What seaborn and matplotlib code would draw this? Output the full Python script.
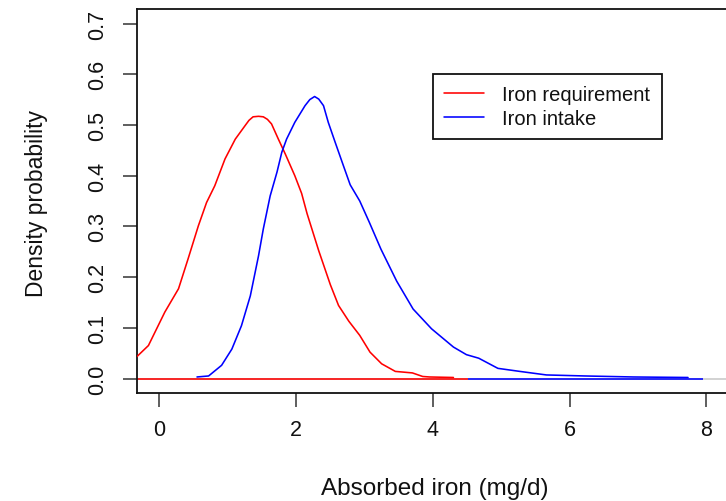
import matplotlib
matplotlib.use("Agg")
import matplotlib.pyplot as plt
import seaborn as sns
import pandas as pd

# ---- data ----
req_x = [-0.33, -0.16, 0.08, 0.28, 0.42, 0.57, 0.69, 0.81, 0.96, 1.11, 1.25, 1.31, 1.37,
         1.45, 1.52, 1.58, 1.64, 1.74, 1.84, 1.98, 2.08, 2.16, 2.33, 2.50, 2.62, 2.77,
         2.93, 3.08, 3.25, 3.45, 3.70, 3.85, 3.95, 4.30]
req_y = [0.043, 0.065, 0.131, 0.177, 0.236, 0.301, 0.347, 0.380, 0.433, 0.472, 0.498,
         0.509, 0.516, 0.517, 0.516, 0.511, 0.502, 0.472, 0.443, 0.400, 0.365, 0.325,
         0.252, 0.185, 0.144, 0.113, 0.085, 0.052, 0.029, 0.014, 0.011, 0.004, 0.003,
         0.002]

int_x = [0.55, 0.72, 0.91, 1.06, 1.20, 1.33, 1.45, 1.52, 1.62, 1.72, 1.79, 1.86, 1.98,
         2.13, 2.20, 2.27, 2.33, 2.40, 2.47, 2.57, 2.69, 2.79, 2.93, 3.07, 3.24, 3.47,
         3.71, 3.98, 4.30, 4.49, 4.67, 4.95, 5.27, 5.66, 6.22, 6.93, 7.73]
int_y = [0.003, 0.005, 0.026, 0.058, 0.104, 0.163, 0.242, 0.295, 0.360, 0.407, 0.446,
         0.472, 0.505, 0.538, 0.550, 0.556, 0.551, 0.538, 0.505, 0.466, 0.420, 0.382,
         0.350, 0.308, 0.255, 0.192, 0.137, 0.098, 0.062, 0.047, 0.040, 0.020, 0.014,
         0.007, 0.005, 0.003, 0.002]

series_names = ["Iron requirement", "Iron intake"]
series_colors = ["#ff0000", "#0000ff"]

# zero-line segments (start, end) for each series
req_zero = [-0.33, 4.52]
int_zero = [4.52, 7.95]

x_ticks = [0, 2, 4, 6, 8]
y_ticks = [0.0, 0.1, 0.2, 0.3, 0.4, 0.5, 0.6, 0.7]
y_tick_labels = ["0.0", "0.1", "0.2", "0.3", "0.4", "0.5", "0.6", "0.7"]

x_label = "Absorbed iron (mg/d)"
y_label = "Density probability"

# ---- build table ----
df = pd.concat([
    pd.DataFrame({"x": req_x, "y": req_y, "series": series_names[0]}),
    pd.DataFrame({"x": int_x, "y": int_y, "series": series_names[1]}),
], ignore_index=True)

sns.set_theme(style="white")
plt.rcParams["font.family"] = ["Liberation Sans", "DejaVu Sans"]
plt.rcParams["text.color"] = "#111111"

W, H = 726, 502
fig = plt.figure(figsize=(W / 100, H / 100), dpi=100)
ax_left, ax_right_px, ax_top_px, ax_bot_px = 136.8, 732.2, 10.3, 393.7
ax = fig.add_axes([ax_left / W, 1 - ax_bot_px / H,
                   (ax_right_px - ax_left) / W, (ax_bot_px - ax_top_px) / H])

LW = 1.15
# gray zero line (R's density zero line)
ax.axhline(0, color="#c8c8c8", lw=LW, zorder=1)
ax.hlines(0, req_zero[0] - 1, req_zero[1], color=series_colors[0], lw=LW, zorder=2)
ax.hlines(0, int_zero[0], int_zero[1], color=series_colors[1], lw=LW, zorder=2)

sns.lineplot(data=df, x="x", y="y", hue="series", palette=dict(zip(series_names, series_colors)),
             estimator=None, sort=False, lw=LW, ax=ax, legend=False, zorder=3)

ax.set_xlim(-0.33, 8.376)
ax.set_ylim(-0.028, 0.728)

ax.set_xticks(x_ticks)
ax.set_xticklabels([str(t) for t in x_ticks])
ax.set_yticks(y_ticks)
ax.set_yticklabels(y_tick_labels, rotation=90, va="center")

ax.tick_params(axis="both", which="major", direction="out", length=10, width=1.1,
               color="#333333", labelsize=15.5, labelcolor="#111111", bottom=True, left=True)
ax.tick_params(axis="x", pad=9)
ax.tick_params(axis="y", pad=11)

for side in ["top", "right", "bottom", "left"]:
    ax.spines[side].set_color("#111111")
    ax.spines[side].set_linewidth(1.3)

ax.set_xlabel(x_label, fontsize=17.5, color="#111111")
ax.set_ylabel(y_label, fontsize=16.5, color="#111111")
ax.xaxis.set_label_coords(0.5, (ax_bot_px - 478) / (ax_bot_px - ax_top_px))
ax.yaxis.set_label_coords((48 - ax_left) / (ax_right_px - ax_left), 0.496)

handles = [plt.Line2D([], [], color=c, lw=LW) for c in series_colors]
leg = ax.legend(handles, series_names, loc="upper left",
                bbox_to_anchor=(432.7 / W, 1 - 75 / H), bbox_transform=fig.transFigure,
                borderaxespad=0, fontsize=14.5, frameon=True, fancybox=False,
                edgecolor="#111111", framealpha=1, borderpad=0.56, labelspacing=0.22,
                handlelength=2.0, handletextpad=0.9)
leg.get_frame().set_linewidth(1.3)

fig.savefig("out.png", dpi=100)
